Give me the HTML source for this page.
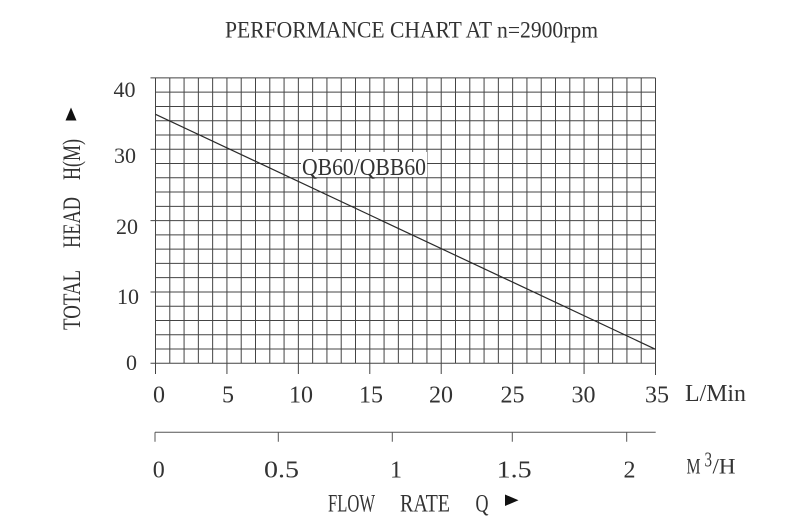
<!DOCTYPE html>
<html>
<head>
<meta charset="utf-8">
<style>
  html, body { margin: 0; padding: 0; background: #fff; }
  svg { display: block; }
  text { font-family: "Liberation Serif", "Noto Serif CJK SC", serif; fill: #333; }
</style>
</head>
<body>
<svg width="800" height="531" viewBox="0 0 800 531" xmlns="http://www.w3.org/2000/svg">
  <rect x="0" y="0" width="800" height="531" fill="#fff"/>

  <!-- Title -->
  <text x="225" y="37.5" font-size="23" textLength="373" lengthAdjust="spacingAndGlyphs">PERFORMANCE CHART AT n=2900rpm</text>

  <!-- Grid: vertical lines -->
  <path stroke="#444" stroke-width="1" fill="none" d="
    M155.5 77.9V363.3 M169.79 77.9V363.3 M184.07 77.9V363.3 M198.36 77.9V363.3 M212.64 77.9V363.3
    M226.93 77.9V363.3 M241.21 77.9V363.3 M255.5 77.9V363.3 M269.79 77.9V363.3 M284.07 77.9V363.3
    M298.36 77.9V363.3 M312.64 77.9V363.3 M326.93 77.9V363.3 M341.21 77.9V363.3 M355.5 77.9V363.3
    M369.79 77.9V363.3 M384.07 77.9V363.3 M398.36 77.9V363.3 M412.64 77.9V363.3 M426.93 77.9V363.3
    M441.21 77.9V363.3 M455.5 77.9V363.3 M469.79 77.9V363.3 M484.07 77.9V363.3 M498.36 77.9V363.3
    M512.64 77.9V363.3 M526.93 77.9V363.3 M541.21 77.9V363.3 M555.5 77.9V363.3 M569.79 77.9V363.3
    M584.07 77.9V363.3 M598.36 77.9V363.3 M612.64 77.9V363.3 M626.93 77.9V363.3 M641.21 77.9V363.3
    M655.5 77.9V363.3"/>
  <!-- Grid: horizontal lines -->
  <path stroke="#444" stroke-width="1" fill="none" d="
    M155.5 363.3H655.5 M155.5 349.03H655.5 M155.5 334.76H655.5 M155.5 320.49H655.5 M155.5 306.22H655.5
    M155.5 291.95H655.5 M155.5 277.68H655.5 M155.5 263.41H655.5 M155.5 249.14H655.5 M155.5 234.87H655.5
    M155.5 220.6H655.5 M155.5 206.33H655.5 M155.5 192.06H655.5 M155.5 177.79H655.5 M155.5 163.52H655.5
    M155.5 149.25H655.5 M155.5 134.98H655.5 M155.5 120.71H655.5 M155.5 106.44H655.5 M155.5 92.17H655.5
    M155.5 77.9H655.5"/>
  <!-- Major ticks -->
  <path stroke="#444" stroke-width="1" fill="none" d="
    M150.5 363.3H155.5 M150.5 291.95H155.5 M150.5 220.6H155.5 M150.5 149.25H155.5 M150.5 77.9H155.5
    M155.5 363.3V374 M226.93 363.3V374 M298.36 363.3V374 M369.79 363.3V374 M441.21 363.3V374
    M512.64 363.3V374 M584.07 363.3V374 M655.5 363.3V375"/>

  <!-- Curve -->
  <line x1="155.5" y1="114.3" x2="655.5" y2="349.3" stroke="#2a2a2a" stroke-width="1.2"/>

  <!-- Curve label -->
  <rect x="301" y="152" width="126" height="25" fill="#fff"/>
  <text x="302" y="175" font-size="24" textLength="124" lengthAdjust="spacingAndGlyphs">QB60/QBB60</text>

  <!-- Y axis numbers -->
  <text x="135.5" y="97" font-size="22" text-anchor="end">40</text>
  <text x="136" y="163" font-size="22" text-anchor="end">30</text>
  <text x="138" y="234" font-size="22" text-anchor="end">20</text>
  <text x="139" y="304" font-size="22" text-anchor="end">10</text>
  <text x="137" y="370" font-size="22" text-anchor="end">0</text>

  <!-- X axis numbers (L/Min) -->
  <g font-size="24" text-anchor="middle">
    <text x="159" y="402.5">0</text>
    <text x="228" y="402.5">5</text>
    <text x="301" y="402.5">10</text>
    <text x="371" y="402.5">15</text>
    <text x="441" y="402.5">20</text>
    <text x="512.5" y="402.5">25</text>
    <text x="583.5" y="402.5">30</text>
    <text x="657" y="402.5">35</text>
  </g>
  <text x="685" y="401" font-size="24" textLength="61" lengthAdjust="spacingAndGlyphs">L/Min</text>

  <!-- Second axis (M3/H) -->
  <path stroke="#555" stroke-width="1" fill="none" d="
    M155 432.3H655.7 M155 432.3V441.7 M278.3 432.3V441.7 M392.3 432.3V441.7 M512.3 432.3V441.7 M626.7 432.3V441.7"/>
  <g font-size="24">
    <text x="158.7" y="477.5" text-anchor="middle">0</text>
    <text x="264" y="477.5" textLength="35" lengthAdjust="spacingAndGlyphs">0.5</text>
    <text x="396" y="477.5" text-anchor="middle">1</text>
    <text x="496.7" y="477.5" textLength="35" lengthAdjust="spacingAndGlyphs">1.5</text>
    <text x="629.5" y="477.5" text-anchor="middle">2</text>
  </g>
  <text x="686.5" y="473.5" font-size="22" textLength="14" lengthAdjust="spacingAndGlyphs">M</text>
  <text x="704.5" y="466.5" font-size="21" textLength="7.5" lengthAdjust="spacingAndGlyphs">3</text>
  <text x="712.5" y="473.5" font-size="22" textLength="23" lengthAdjust="spacingAndGlyphs">/H</text>

  <!-- X axis title -->
  <text x="328" y="511.5" font-size="25" textLength="47" lengthAdjust="spacingAndGlyphs">FLOW</text>
  <text x="400" y="511.5" font-size="25" textLength="50" lengthAdjust="spacingAndGlyphs">RATE</text>
  <text x="475.5" y="511.5" font-size="25" textLength="13" lengthAdjust="spacingAndGlyphs">Q</text>
  <polygon points="505,494.5 505,506 518.5,500.3" fill="#111"/>

  <!-- Y axis title -->
  <g transform="translate(80,330) rotate(-90)">
    <text x="0" y="0" font-size="25" textLength="60" lengthAdjust="spacingAndGlyphs">TOTAL</text>
    <text x="82" y="0" font-size="25" textLength="51" lengthAdjust="spacingAndGlyphs">HEAD</text>
    <text x="150" y="0" font-size="25" textLength="41" lengthAdjust="spacingAndGlyphs">H(M)</text>
  </g>
  <polygon points="71,107.5 65.5,120.5 76.5,120.5" fill="#111"/>
</svg>
</body>
</html>
